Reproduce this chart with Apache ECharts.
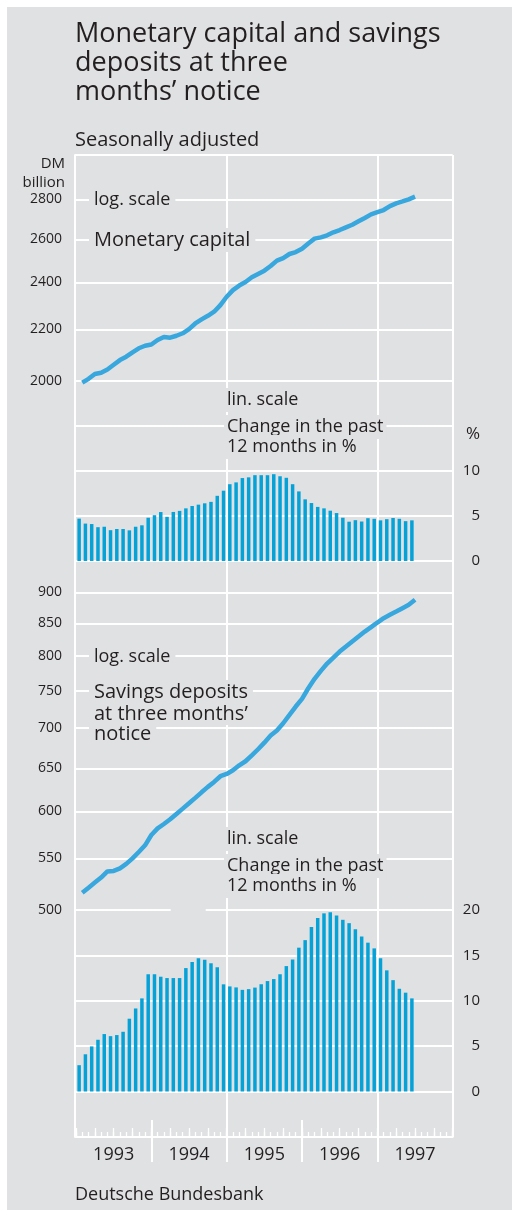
<!DOCTYPE html>
<html lang="en">
<head>
<meta charset="utf-8" />
<title>Monetary capital and savings deposits</title>
<script src="https://cdn.jsdelivr.net/npm/echarts@6.0.0/dist/echarts.min.js"></script>
<style>
  body { margin: 0; background: #fff; }
  #panel { position: absolute; left: 7px; top: 7px; width: 505px; height: 1203px; background: #e0e1e3; }
  #chart { position: absolute; left: 0; top: 0; width: 512px; height: 1210px; }
</style>
</head>
<body>
<div id="panel"></div>
<div id="chart"></div>
<script type="text/javascript">
    // month index 0 = Jan 1993 ... 53 = Jun 1997
    var years = ['1993', '1994', '1995', '1996', '1997'];
    var monetaryTicks = [2000, 2200, 2400, 2600, 2800];
    var savingsTicks = [500, 550, 600, 650, 700, 750, 800, 850, 900];

    // DM billion, end of month, log scale
    var monetaryCapital = [
        1993, 2007, 2025, 2030, 2042, 2060, 2078, 2091, 2108, 2124, 2134, 2139,
        2157, 2169, 2166, 2174, 2184, 2201, 2224, 2241, 2256, 2273, 2301, 2337,
        2366, 2386, 2402, 2423, 2438, 2453, 2474, 2499, 2511, 2530, 2539, 2555,
        2580, 2603, 2609, 2619, 2634, 2645, 2658, 2671, 2688, 2705, 2723, 2734,
        2745, 2765, 2779, 2789, 2800, 2814
    ];
    // change in the past 12 months, %
    var monetaryChange = [
        4.7, 4.15, 4.1, 3.75, 3.8, 3.42, 3.55, 3.55, 3.4, 3.8, 3.96, 4.8,
        5.08, 5.43, 4.9, 5.44, 5.56, 5.84, 6.1, 6.25, 6.4, 6.56, 7.23, 7.8,
        8.52, 8.72, 9.2, 9.28, 9.52, 9.52, 9.52, 9.63, 9.4, 9.23, 8.52, 7.72,
        6.84, 6.43, 6.0, 5.84, 5.58, 5.32, 4.8, 4.36, 4.53, 4.38, 4.75, 4.68,
        4.51, 4.64, 4.77, 4.68, 4.42, 4.51
    ];
    var savingsDeposits = [
        516.3, 521.1, 526.0, 530.9, 537.0, 537.5, 540.1, 544.5, 550.2, 556.7, 563.6, 574.5,
        581.6, 586.3, 591.4, 597.3, 603.2, 609.2, 615.3, 621.7, 628.0, 633.8, 640.5, 643.2,
        647.6, 653.6, 658.5, 665.8, 673.3, 681.6, 690.5, 697.0, 706.5, 717.5, 728.7, 739.1,
        753.8, 767.0, 778.4, 789.1, 797.9, 806.8, 814.3, 821.9, 829.5, 837.2, 844.0, 851.3,
        858.2, 863.5, 868.8, 874.2, 879.6, 887.8
    ];
    var savingsChange = [
        2.9, 4.1, 4.97, 5.7, 6.33, 6.1, 6.22, 6.58, 8.02, 9.15, 10.26, 12.92,
        12.92, 12.65, 12.5, 12.5, 12.5, 13.6, 14.27, 14.67, 14.52, 14.13, 13.69, 11.81,
        11.58, 11.47, 11.2, 11.28, 11.45, 11.82, 12.17, 12.39, 12.92, 13.82, 14.54, 15.85,
        16.68, 18.12, 19.11, 19.63, 19.74, 19.4, 18.92, 18.55, 17.87, 17.08, 16.4, 15.77,
        14.67, 13.35, 12.27, 11.32, 10.89, 10.26
    ];

    var BG = '#e0e1e3';
    var INK = '#231f20';
    var FONT = '"Open Sans", "Noto Sans", sans-serif';
    var BAR = '#05a2d8';
    var LINE = '#37a7dd';
    var GRIDLINE = { show: true, lineStyle: { color: '#ffffff', width: 2 } };

    // plot geometry (px)
    var L = 76, RX = 452.7, R = 512 - RX;
    var MONTH = (RX - L) / 60;

    function logTicks(arr) {
        return arr.map(function (v) { return Math.log(v); });
    }
    function lineData(arr) {
        return arr.map(function (v, i) { return [i + 1, Math.log(v)]; });
    }
    function barData(arr) {
        return arr.map(function (v, i) { return [i + 0.5, v]; });
    }
    function hiddenX(grid) {
        return { type: 'value', gridIndex: grid, min: 0, max: 60, show: false };
    }
    function hiddenY(grid) {
        return { type: 'value', gridIndex: grid, min: 0, max: 1, show: false };
    }
    // text; when boxed, the panel-coloured box hides the grid lines behind it
    function label(text, x, y, size, opts) {
        opts = opts || {};
        var st = {
            text: text, x: x, y: y,
            font: size + 'px ' + FONT,
            fill: INK,
            textAlign: opts.align || 'left', align: opts.align || 'left',
            textVerticalAlign: 'middle', verticalAlign: 'middle'
        };
        if (opts.box) {
            st.backgroundColor = BG;
            st.padding = opts.box;
            st.x = x - opts.box[1];
        }
        return { type: 'text', z: 20, style: st };
    }

    var logAxisLabel = {
        color: INK, fontFamily: FONT, fontSize: 14, margin: 14,
        formatter: function (v) { return String(Math.round(Math.exp(v))); }
    };

    var option = {
        animation: false,
        grid: [
            { left: 74.3, right: R, top: 155, height: 982 },            // frame
            { left: L, right: R, top: 155, height: 225.7 },             // monetary capital, log
            { left: L, right: R, top: 380.7, height: 180.3 },           // monetary change, lin
            { left: L, right: R, top: 561, height: 349 },               // savings, log
            { left: L, right: R, top: 910, height: 181.5 },             // savings change, lin
            { left: L, right: R, top: 1091.5, height: 45.5 },           // time axis strip
            { left: L + 24 * MONTH, right: 512 - (L + 48 * MONTH), top: 155, height: 1007 },
            { left: L + 12 * MONTH, right: 512 - (L + 36 * MONTH), top: 1120, height: 42 }
        ],
        xAxis: [
            { type: 'value', gridIndex: 0, min: 0, max: 1, interval: 1, axisLine: { show: false },
              axisTick: { show: false }, axisLabel: { show: false }, splitLine: GRIDLINE },
            hiddenX(1), hiddenX(2), hiddenX(3), hiddenX(4),
            { type: 'value', gridIndex: 5, position: 'bottom', min: 0, max: 60, interval: 1,
              axisLine: { show: true, onZero: false, lineStyle: { color: '#fff', width: 2 } },
              axisTick: { show: true, inside: true, length: 5, lineStyle: { color: '#fff', width: 1.3 } },
              axisLabel: { show: false }, splitLine: { show: false } },
            { type: 'value', gridIndex: 5, position: 'bottom', min: 0, max: 60, interval: 3,
              axisLine: { show: false, onZero: false },
              axisTick: { show: true, inside: true, length: 9, lineStyle: { color: '#fff', width: 1.3 } },
              axisLabel: { show: false }, splitLine: { show: false } },
            { type: 'value', gridIndex: 5, position: 'bottom', min: 0, max: 60, interval: 6,
              axisLine: { show: false, onZero: false }, axisTick: { show: false }, splitLine: { show: false },
              axisLabel: {
                  show: true, margin: 9, color: INK, fontFamily: FONT, fontSize: 18,
                  formatter: function (v) { return (v - 6) % 12 === 0 ? years[(v - 6) / 12] : ''; }
              } },
            { type: 'value', gridIndex: 6, min: 24, max: 48, interval: 24, axisLine: { show: false },
              axisTick: { show: false }, axisLabel: { show: false }, splitLine: GRIDLINE },
            { type: 'value', gridIndex: 7, min: 12, max: 36, interval: 24, axisLine: { show: false },
              axisTick: { show: false }, axisLabel: { show: false }, splitLine: GRIDLINE }
        ],
        yAxis: [
            { type: 'value', gridIndex: 0, min: 0, max: 1, interval: 1, axisLine: { show: false },
              axisTick: { show: false }, axisLabel: { show: false }, splitLine: GRIDLINE },
            { type: 'value', gridIndex: 1, position: 'left', min: Math.log(2000), max: Math.log(3040),
              axisLine: { show: false },
              axisTick: { show: false, customValues: logTicks(monetaryTicks) },
              axisLabel: Object.assign({ customValues: logTicks(monetaryTicks) }, logAxisLabel),
              splitLine: GRIDLINE },
            { type: 'value', gridIndex: 2, position: 'right', min: 0, max: 20, interval: 5,
              axisLine: { show: false }, axisTick: { show: false }, splitLine: GRIDLINE,
              axisLabel: { color: INK, fontFamily: FONT, fontSize: 15, margin: 27.3, align: 'right',
                           formatter: function (v) { return v <= 10 ? String(v) : ''; } } },
            { type: 'value', gridIndex: 3, position: 'left', min: Math.log(500), max: Math.log(954),
              axisLine: { show: false },
              axisTick: { show: false, customValues: logTicks(savingsTicks) },
              axisLabel: Object.assign({ customValues: logTicks(savingsTicks) }, logAxisLabel),
              splitLine: GRIDLINE },
            { type: 'value', gridIndex: 4, position: 'right', min: 0, max: 20, interval: 5,
              axisLine: { show: false }, axisTick: { show: false }, splitLine: GRIDLINE,
              axisLabel: { color: INK, fontFamily: FONT, fontSize: 15, margin: 27.3, align: 'right' } },
            hiddenY(5), hiddenY(6), hiddenY(7)
        ],
        series: [
            { type: 'line', xAxisIndex: 1, yAxisIndex: 1, data: lineData(monetaryCapital),
              showSymbol: false, clip: false, z: 5, lineStyle: { color: LINE, width: 4.5 } },
            { type: 'bar', xAxisIndex: 2, yAxisIndex: 2, data: barData(monetaryChange),
              barWidth: 3.5, itemStyle: { color: BAR } },
            { type: 'line', xAxisIndex: 3, yAxisIndex: 3, data: lineData(savingsDeposits),
              showSymbol: false, clip: false, z: 5, lineStyle: { color: LINE, width: 4.5 } },
            { type: 'bar', xAxisIndex: 4, yAxisIndex: 4, data: barData(savingsChange),
              barWidth: 3.5, itemStyle: { color: BAR } }
        ],
        graphic: [
            label('Monetary capital and savings', 75, 34, 27),
            label('deposits at three', 75, 63.3, 27),
            label('months\u2019 notice', 75, 92.3, 27),
            label('Seasonally adjusted', 75, 140, 20),
            label('DM', 65, 164, 15, { align: 'right' }),
            label('billion', 65, 183, 15, { align: 'right' }),
            label('log. scale', 94, 200, 18, { box: [2, 5] }),
            label('Monetary capital', 94, 240, 20, { box: [2, 5] }),
            label('lin. scale', 227, 400, 18, { box: [3, 3] }),
            label('Change in the past', 227, 427, 18, { box: [3, 3] }),
            label('12 months in %', 227, 447, 18, { box: [3, 3] }),
            label('%', 480, 434, 17, { align: 'right' }),
            label('log. scale', 94, 657, 18, { box: [2, 5] }),
            label('Savings deposits', 94, 692, 20, { box: [2, 5] }),
            label('at three months\u2019', 94, 714, 20, { box: [1, 5] }),
            label('notice', 94, 734, 20, { box: [1, 5] }),
            label('lin. scale', 227, 839, 18, { box: [3, 3] }),
            label('Change in the past', 227, 866, 18, { box: [3, 3] }),
            label('12 months in %', 227, 886, 18, { box: [3, 3] }),
            { type: 'rect', z: 20, shape: { x: 170.7, y: 908, width: 35, height: 4 }, style: { fill: BG } },
            label('Deutsche Bundesbank', 75, 1195, 18)
        ]
    };

    var chart = echarts.init(document.getElementById('chart'));
    chart.setOption(option);
</script>
</body>
</html>
